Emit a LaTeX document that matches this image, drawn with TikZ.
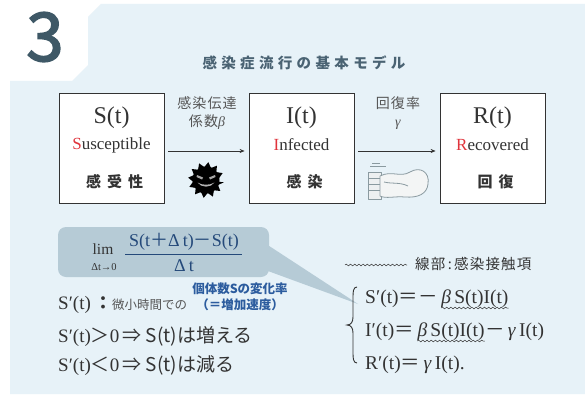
\documentclass[tikz,border=0pt]{standalone}
\usepackage{fontspec}
\setmainfont{Liberation Serif}
\newfontfamily\jp{Noto Sans CJK JP}
\newfontfamily\jpsp{Noto Sans CJK JP}[LetterSpace=30]
\newfontfamily\jpbox{Noto Sans CJK JP}[LetterSpace=40]
\newfontfamily\jpwd{Noto Sans CJK JP}[LetterSpace=8]
\newfontfamily\jpnum{Noto Sans CJK JP}[FakeBold=2.5]
\usetikzlibrary{decorations.pathmorphing,arrows.meta}
\definecolor{panel}{HTML}{E7F2F8}
\definecolor{slate}{HTML}{3E5866}
\definecolor{titlec}{HTML}{4A6373}
\definecolor{ink}{HTML}{333333}
\definecolor{soft}{HTML}{555555}
\definecolor{callout}{HTML}{B6CBD6}
\definecolor{navy}{HTML}{24497A}
\definecolor{lblue}{HTML}{2C5C9E}
\definecolor{redS}{HTML}{E0343C}
\definecolor{sketch}{HTML}{8A9AA0}
\begin{document}
\begin{tikzpicture}[x=1pt,y=-1pt,
  compbox/.style={draw=ink, line width=0.8pt, fill=white, minimum width=105pt, minimum height=110pt},
  bigsym/.style={font=\fontsize{24}{24}\selectfont, text=ink},
  engname/.style={font=\fontsize{17}{17}\selectfont, text=ink},
  jpname/.style={font=\jpbox\fontsize{15}{15}\selectfont\bfseries, text=ink},
  ratelbl/.style={font=\jpwd\fontsize{14}{18}\selectfont, text=soft, align=center},
  flow/.style={draw=ink, line width=0.7pt, -{Stealth[length=5pt,width=4pt]}},
  eqn/.style={font=\fontsize{19.5}{19.5}\selectfont, text=ink, inner sep=0pt, anchor=base west},
  wavy/.style={draw=ink, line width=0.5pt, decorate, decoration={snake, amplitude=0.9pt, segment length=4.2pt}},
  ruleline/.style={font=\fontsize{19}{19}\selectfont, text=ink, inner sep=0pt, anchor=base west}]
\useasboundingbox (0,0) rectangle (585,398);
\fill[white] (0,0) rectangle (585,398);
% background panel with the clipped corner holding the section number
\fill[panel] (10,81) -- (72,81) -- (88,65) -- (88,17) -- (101,4) -- (585,4) -- (585,394) -- (10,394) -- cycle;
\node[text=slate, font=\jpnum\fontsize{67}{67}\selectfont, inner sep=0pt] (num) at (45,37) {3};

% title
\node[text=titlec, font=\jpsp\bfseries\fontsize{14.5}{15}\selectfont] (title) at (304,63) {感染症流行の基本モデル};

% compartments
\node[compbox] (S) at (111.5,148) {};
\node[compbox] (I) at (301.5,148) {};
\node[compbox] (R) at (492.5,148) {};
\foreach \b/\sym/\cap/\rest/\jpn in {S/S(t)/S/usceptible/感受性, I/I(t)/I/nfected/感染, R/R(t)/R/ecovered/回復}{
  \node[bigsym] (\b sym) at ([yshift=30pt]\b.center) {\sym};
  \node[engname] (\b eng) at ([yshift=3pt]\b.center) {\textcolor{redS}{\cap}\rest};
  \node[jpname] (\b jp) at ([yshift=-34pt,xshift=3pt]\b.center) {\jpn};
}

% flows between compartments
\draw[flow] ([xshift=4pt,yshift=-3pt]S.east) -- ([xshift=-4pt,yshift=-3pt]I.west);
\draw[flow] ([xshift=4pt,yshift=-3pt]I.east) -- ([xshift=-4pt,yshift=-3pt]R.west);
\node[ratelbl] (beta) at (207,113) {感染伝達\\係数{\rmfamily\itshape β}};
\node[ratelbl] (gam) at (398,113) {回復率\\{\rmfamily\itshape γ}};

% virus icon
\fill[black] (206,180)
  \foreach \k in {0,...,23}{ -- ({206+(mod(\k,2)==0 ? 18 : 13)*cos(\k*15+7.5)},{180+(mod(\k,2)==0 ? 18 : 13)*sin(\k*15+7.5)}) } -- cycle;
\fill[black] (206,180) circle (13.5);
\fill[gray!70] (197,175) -- (203,177.5) -- (202,179.5) -- (196.5,177) -- cycle;
\fill[gray!70] (215,175) -- (209,177.5) -- (210,179.5) -- (215.5,177) -- cycle;
\fill[gray!60] (197.5,182.5) .. controls (201,188) and (211,188) .. (214.5,182.5)
  .. controls (210,185.5) and (202,185.5) .. (197.5,182.5) -- cycle;

% hand washing icon
\begin{scope}[draw=sketch, line width=0.8pt, line join=round]
  \filldraw[fill=white!85!sketch] (368,172) rectangle (381,199);
  \draw (368,178) -- (381,178) (368,184) -- (381,184) (368,190) -- (381,190);
  \filldraw[fill=white!90!sketch] (380,176) .. controls (392,170) and (400,178) .. (410,172)
    .. controls (420,166) and (430,172) .. (428,184)
    .. controls (427,194) and (418,198) .. (405,197)
    .. controls (395,196) and (386,199) .. (380,196) -- cycle;
  \draw (384,182) .. controls (392,184) and (400,182) .. (408,186);
  \draw (370,166) -- (386,166) (372,163) -- (380,163);
\end{scope}

% difference quotient callout
\node[fill=callout, rounded corners=8pt, minimum width=211pt, minimum height=50pt, inner sep=0pt] (call) at (163.5,252) {};
\fill[callout] ([yshift=6pt]call.east) -- (358,304) -- ([yshift=-18pt,xshift=-4pt]call.east) -- cycle;
\node[font=\fontsize{15.5}{15.5}\selectfont, text=ink, inner sep=0pt] (lim) at (103,249) {lim};
\node[font=\fontsize{10.5}{10.5}\selectfont, text=ink, inner sep=0pt] (limsub) at (104,267) {Δt→0};
\node[font=\fontsize{18}{18}\selectfont, text=navy, inner sep=0pt] (numer) at (184,242) {S(t{\jp＋}Δ\,t){\jp－}S(t)};
\node[font=\fontsize{18}{18}\selectfont, text=navy, inner sep=0pt] (denom) at (184,266) {Δ\,t};
\draw[navy, line width=0.9pt] (125,254) -- (242,254);

% blue note
\node[text=lblue, font=\jp\bfseries\fontsize{12.5}{16}\selectfont, align=center, inner sep=0pt] (note) at (240,297) {個体数Sの変化率\\（＝増加速度）};

% meaning of the derivative
\node[ruleline] (d0) at (58,309) {S′(t)\,{\jp\bfseries\fontsize{18}{18}\selectfont ：}{\jp\fontsize{12.5}{12.5}\selectfont\color{soft}微小時間での}};
\node[ruleline] (d1) at (58,342) {S′(t){\jp＞}0\,{\jp ⇒ S(t)は増える}};
\node[ruleline] (d2) at (58,371) {S′(t){\jp＜}0\,{\jp ⇒ S(t)は減る}};

% legend for the wavy underline
\coordinate (wl) at (345,265);
\coordinate (wr) at (407,265);
\draw[wavy] (wl) -- (wr);
\node[font=\jpwd\fontsize{14.5}{14.5}\selectfont, text=ink, anchor=west, inner sep=0pt] (legend) at (415,264) {線部\,:\,感染接触項};

% SIR system
\draw[ink, line width=0.9pt] (357,287) .. controls (353,287) and (353,292) .. (353,298) -- (353,317)
  .. controls (353,322) and (351,325) .. (347,325) .. controls (351,325) and (353,328) .. (353,333)
  -- (353,352) .. controls (353,358) and (353,363) .. (357,363);
\node[eqn] (e1a) at (365,303) {S′(t){\jp＝－}\,};
\node[eqn, anchor=base west] (e1b) at (e1a.base east) {\textit{β}\,S(t)I(t)};
\node[eqn] (e2a) at (365,336) {I′(t){\jp＝}\,};
\node[eqn, anchor=base west] (e2b) at (e2a.base east) {\textit{β}\,S(t)I(t)};
\node[eqn, anchor=base west] (e2c) at (e2b.base east) {{\jp－}\,\textit{γ}\,I(t)};
\node[eqn] (e3) at (365,369) {R′(t){\jp＝}\,\textit{γ}\,I(t).};
\draw[wavy] ([yshift=-5pt]e1b.base west) -- ([yshift=-5pt]e1b.base east);
\draw[wavy] ([yshift=-5pt]e2b.base west) -- ([yshift=-5pt]e2b.base east);
\end{tikzpicture}
\end{document}
